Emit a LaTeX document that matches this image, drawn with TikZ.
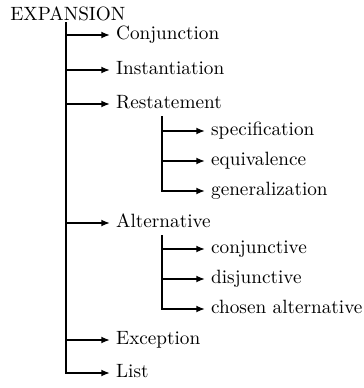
\documentclass[tikz,border=0pt]{standalone}
\usetikzlibrary{arrows.meta}
\begin{document}
\begin{tikzpicture}[x=0.52pt,y=-0.52pt,
  arr/.style={line width=1pt,-{Latex[length=4.5pt,width=3.6pt]}},
  lbl/.style={anchor=mid west,inner xsep=3pt,inner ysep=0pt,font=\fontsize{10pt}{12pt}\selectfont}]
\useasboundingbox (0,0) rectangle (364,388);
\node[anchor=base west,inner sep=0pt,font=\fontsize{10pt}{12pt}\selectfont] (root) at (10,20) {EXPANSION};
\coordinate (t0) at (66,22);
\node[lbl] (conj) at (110,35) {Conjunction};
\node[lbl] (inst) at (110,70) {Instantiation};
\node[lbl] (rest) at (110,104) {Restatement};
\node[lbl] (spec) at (205,131) {specification};
\node[lbl] (equi) at (205,161) {equivalence};
\node[lbl] (gene) at (205,191) {generalization};
\node[lbl] (alte) at (110,223) {Alternative};
\node[lbl] (cjtv) at (205,249) {conjunctive};
\node[lbl] (djtv) at (205,279) {disjunctive};
\node[lbl] (chos) at (205,309) {chosen alternative};
\node[lbl] (exce) at (110,340) {Exception};
\node[lbl] (list) at (110,373) {List};
\coordinate (s1) at (162,116);
\coordinate (s2) at (162,235);
% main trunk
\draw[arr] (t0) |- (list.mid west);
\foreach \n in {conj,inst,rest,alte,exce}
  \draw[arr] (t0 |- \n.mid west) -- (\n.mid west);
% restatement subtree
\draw[arr] (s1) |- (gene.mid west);
\foreach \n in {spec,equi}
  \draw[arr] (s1 |- \n.mid west) -- (\n.mid west);
% alternative subtree
\draw[arr] (s2) |- (chos.mid west);
\foreach \n in {cjtv,djtv}
  \draw[arr] (s2 |- \n.mid west) -- (\n.mid west);
\end{tikzpicture}
\end{document}
